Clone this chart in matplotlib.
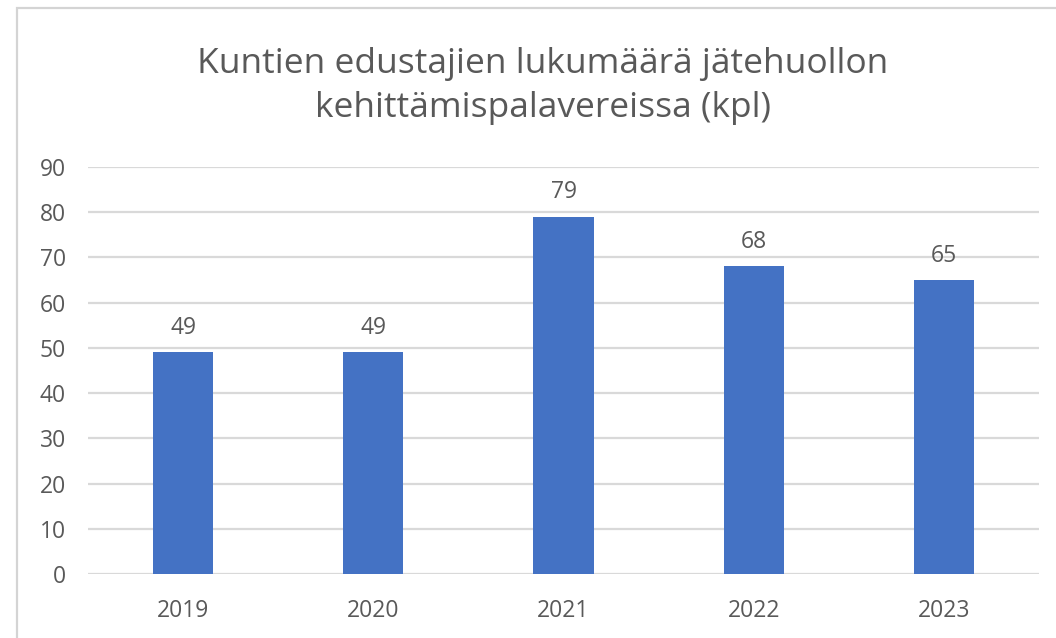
import matplotlib
matplotlib.use("Agg")
import matplotlib.pyplot as plt
from matplotlib.patches import Rectangle

years = ["2019", "2020", "2021", "2022", "2023"]
counts = [49, 49, 79, 68, 65]
yticks = [0, 10, 20, 30, 40, 50, 60, 70, 80, 90]
title = "Kuntien edustajien lukumäärä jätehuollon\nkehittämispalavereissa (kpl)"

plt.rcParams["font.family"] = ["Open Sans", "DejaVu Sans"]
text_color = "#595959"
grid_color = "#D9D9D9"
bar_color = "#4472C4"

W, H = 1056, 638
fig = plt.figure(figsize=(W / 100, H / 100), dpi=100)
fig.patch.set_facecolor("white")

# chart frame (left and top edges visible)
fig.patches.append(Rectangle((17 / W, -0.2), 1.2, (H - 8) / H + 0.2,
                             transform=fig.transFigure, fill=False,
                             edgecolor="#D4D4D4", linewidth=1.6, clip_on=False))

ax = fig.add_axes([88 / W, 64 / H, (1039 - 88) / W, 407 / H])
x = range(len(years))
bars = ax.bar(x, counts, width=0.316, color=bar_color, zorder=3)
ax.set_xlim(-0.5, len(years) - 0.5)
ax.set_ylim(0, 90)
ax.set_yticks(yticks)
ax.set_xticks(list(x))
ax.set_xticklabels(years)
ax.yaxis.grid(True, color=grid_color, linewidth=1.6, zorder=0)
for s in ax.spines.values():
    s.set_visible(False)
ax.tick_params(axis="both", length=0, colors=text_color, labelsize=16.5)
ax.tick_params(axis="y", pad=16)
ax.tick_params(axis="x", pad=18)

for xi, v in zip(x, counts):
    ax.annotate(str(v), (xi, v), xytext=(0, 9), textcoords="offset points",
                ha="center", va="bottom", fontsize=16.5, color=text_color)

fig.text(543 / W, 1 - 86 / H, title, ha="center", va="center",
         fontsize=25.5, color=text_color, linespacing=1.36)

fig.savefig("out.png", dpi=100)
